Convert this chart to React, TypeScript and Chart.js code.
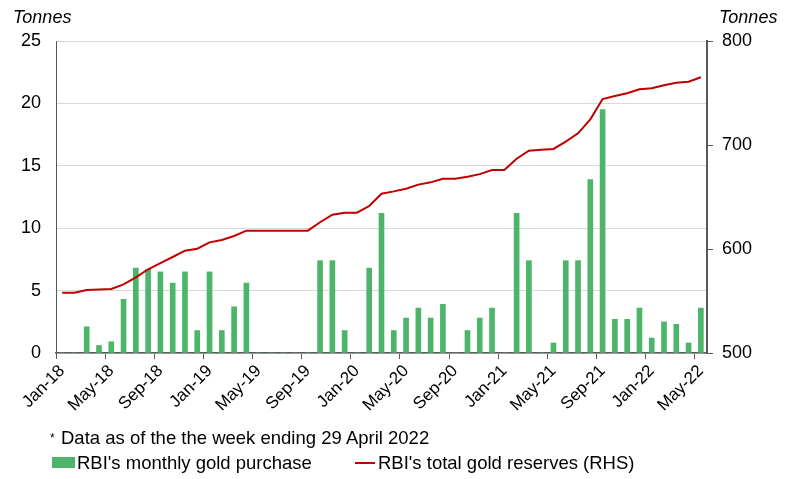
import { useEffect, useRef } from 'react';
import { Chart, registerables } from 'chart.js';

Chart.register(...registerables);

// Monthly labels, Jan-18 .. May-22
const months = [
  'Jan-18', 'Feb-18', 'Mar-18', 'Apr-18', 'May-18', 'Jun-18', 'Jul-18', 'Aug-18', 'Sep-18', 'Oct-18', 'Nov-18', 'Dec-18',
  'Jan-19', 'Feb-19', 'Mar-19', 'Apr-19', 'May-19', 'Jun-19', 'Jul-19', 'Aug-19', 'Sep-19', 'Oct-19', 'Nov-19', 'Dec-19',
  'Jan-20', 'Feb-20', 'Mar-20', 'Apr-20', 'May-20', 'Jun-20', 'Jul-20', 'Aug-20', 'Sep-20', 'Oct-20', 'Nov-20', 'Dec-20',
  'Jan-21', 'Feb-21', 'Mar-21', 'Apr-21', 'May-21', 'Jun-21', 'Jul-21', 'Aug-21', 'Sep-21', 'Oct-21', 'Nov-21', 'Dec-21',
  'Jan-22', 'Feb-22', 'Mar-22', 'Apr-22', 'May-22',
];

// RBI's monthly gold purchase (tonnes, LHS)
const monthlyPurchase = [
  0, 0, 2.1, 0.6, 0.9, 4.3, 6.8, 6.7, 6.5, 5.6, 6.5, 1.8,
  6.5, 1.8, 3.7, 5.6, 0, 0, 0, 0, 0, 7.4, 7.4, 1.8,
  0, 6.8, 11.2, 1.8, 2.8, 3.6, 2.8, 3.9, 0, 1.8, 2.8, 3.6,
  0, 11.2, 7.4, 0, 0.8, 7.4, 7.4, 13.9, 19.5, 2.7, 2.7, 3.6,
  1.2, 2.5, 2.3, 0.8, 3.6,
];

// RBI's total gold reserves (tonnes, RHS)
const totalReserves = [
  558, 558, 560.6, 561, 561.5, 566, 572.8, 580.5, 586.5, 592.3, 598.4, 600.3,
  606.4, 608.6, 612.5, 617.6, 617.6, 617.6, 617.6, 617.6, 617.6, 625.7, 633, 634.9,
  634.9, 641.3, 653.2, 655.4, 658, 661.9, 664.1, 667.6, 667.6, 669.5, 672, 676,
  676, 686.8, 694.5, 695.5, 696.2, 703.2, 711.2, 724.7, 744.2, 747.1, 749.7, 753.5,
  754.5, 757.4, 759.9, 760.9, 765.1,
];

const leftTicks = { min: 0, max: 25, step: 5 };
const rightTicks = { min: 500, max: 800, step: 100 };

const FONT = "'Liberation Sans', Arial, sans-serif";
const GREEN = '#4db56a';
const RED = '#c00000';
const AXIS = '#595959';

export default function App() {
  const canvasRef = useRef<HTMLCanvasElement>(null);
  const chartRef = useRef<Chart | null>(null);

  useEffect(() => {
    document.body.style.margin = '0';
    if (!canvasRef.current) return;
    if (chartRef.current) chartRef.current.destroy();

    chartRef.current = new Chart(canvasRef.current, {
      type: 'bar',
      data: {
        labels: months,
        datasets: [
          {
            type: 'line',
            label: "RBI's total gold reserves (RHS)",
            data: totalReserves,
            yAxisID: 'y1',
            borderColor: RED,
            borderWidth: 2,
            pointRadius: 0,
            tension: 0,
            order: 0,
          },
          {
            type: 'bar',
            label: "RBI's monthly gold purchase",
            data: monthlyPurchase,
            yAxisID: 'y',
            backgroundColor: GREEN,
            borderWidth: 0,
            barThickness: 5,
            order: 1,
          },
        ],
      },
      options: {
        responsive: false,
        animation: false,
        layout: { padding: { top: 41, left: 0, right: 0, bottom: 0 } },
        plugins: {
          legend: { display: false },
          tooltip: { enabled: false },
        },
        scales: {
          x: {
            afterFit: (scale: any) => { scale.height = 126; },
            border: { display: true, color: AXIS, width: 1.5 },
            grid: {
              offset: true,
              drawOnChartArea: false,
              drawTicks: true,
              tickLength: 6,
              color: (ctx: any) => (ctx.index % 4 === 0 ? AXIS : 'rgba(0,0,0,0)'),
            },
            ticks: {
              autoSkip: false,
              minRotation: 45,
              maxRotation: 45,
              padding: 2,
              color: '#000',
              font: { family: FONT, size: 17 },
              callback: (_v: any, i: number) => (i % 4 === 0 ? months[i] : ''),
            },
          },
          y: {
            position: 'left',
            min: leftTicks.min,
            max: leftTicks.max,
            afterFit: (scale: any) => { scale.width = 56; },
            border: { display: true, color: AXIS, width: 1 },
            grid: { color: '#d9d9d9', drawTicks: false, lineWidth: 1 },
            ticks: {
              stepSize: leftTicks.step,
              padding: 15,
              color: '#000',
              font: { family: FONT, size: 18 },
            },
          },
          y1: {
            position: 'right',
            min: rightTicks.min,
            max: rightTicks.max,
            afterFit: (scale: any) => { scale.width = 93; },
            border: { display: true, color: AXIS, width: 2 },
            grid: { drawOnChartArea: false, drawTicks: true, tickLength: 6, color: AXIS },
            ticks: {
              stepSize: rightTicks.step,
              padding: 9,
              color: '#000',
              font: { family: FONT, size: 18 },
            },
          },
        },
      },
    });

    return () => {
      if (chartRef.current) {
        chartRef.current.destroy();
        chartRef.current = null;
      }
    };
  }, []);

  const text = { position: 'absolute' as const, fontFamily: FONT, color: '#000', lineHeight: '1', whiteSpace: 'nowrap' as const };

  return (
    <div style={{ position: 'relative', width: 800, height: 479, background: '#fff', overflow: 'hidden' }}>
      <canvas ref={canvasRef} width={800} height={479} style={{ position: 'absolute', left: 0, top: 0 }} />
      <span style={{ ...text, left: 13, top: 8, fontSize: 18, fontStyle: 'italic' }}>Tonnes</span>
      <span style={{ ...text, left: 719, top: 8, fontSize: 18, fontStyle: 'italic' }}>Tonnes</span>
      <span style={{ ...text, left: 50, top: 432, fontSize: 12 }}>*</span>
      <span style={{ ...text, left: 61, top: 429, fontSize: 18.5 }}>Data as of the the week ending 29 April 2022</span>
      <div style={{ position: 'absolute', left: 52, top: 457, width: 23, height: 11, background: GREEN }} />
      <span style={{ ...text, left: 77, top: 454, fontSize: 18.5 }}>RBI's monthly gold purchase</span>
      <div style={{ position: 'absolute', left: 355, top: 462, width: 20, height: 2, background: RED }} />
      <span style={{ ...text, left: 378, top: 454, fontSize: 18.5 }}>RBI's total gold reserves (RHS)</span>
    </div>
  );
}
